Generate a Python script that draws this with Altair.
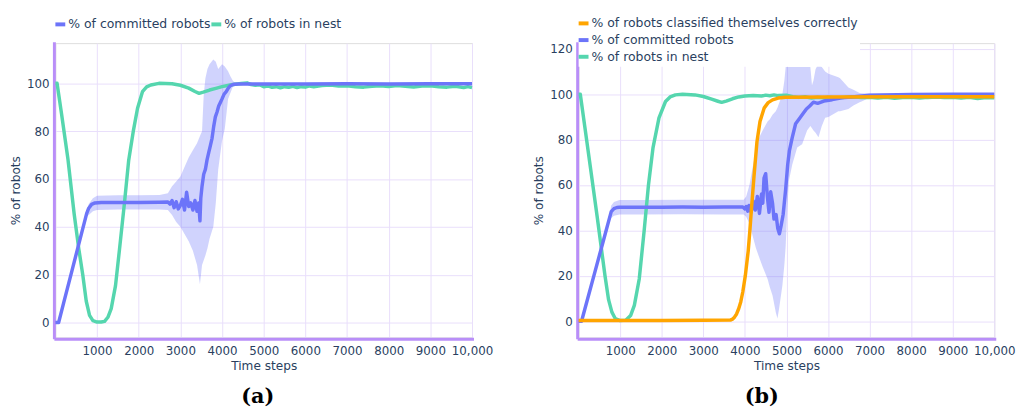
import altair as alt
import pandas as pd

# ---------------- data ----------------
SER_COR = "% of robots classified themselves correctly"
SER_COM = "% of committed robots"
SER_NEST = "% of robots in nest"

x_ticks = [1000, 2000, 3000, 4000, 5000, 6000, 7000, 8000, 9000, 10000]
y_ticks_a = [0, 20, 40, 60, 80, 100]
y_ticks_b = [0, 20, 40, 60, 80, 100, 120]

# panel (a)
nest_a = [(0, 100), (40, 100), (150, 87), (300, 68.5), (450, 45.5), (560, 31), (657, 20),
          (740, 9), (820, 3), (900, 0.8), (1000, 0.2), (1100, 0.2), (1180, 0.5), (1260, 2.2),
          (1340, 5.8), (1443, 15.4), (1538, 30.5), (1656, 49.7), (1758, 67.6), (1870, 80),
          (1972, 89.6), (2090, 96.5), (2190, 98.5), (2290, 99.3), (2486, 100), (2800, 99.8),
          (3000, 99.2), (3200, 98), (3350, 96.6), (3450, 95.8), (3550, 96.3), (3700, 97.2),
          (3850, 97.9), (4000, 98.6), (4224, 99.4), (4460, 99.9), (4600, 100.2), (4700, 99.5),
          (4800, 99.2), (4900, 99.4), (5000, 98.6), (5100, 98.9), (5200, 98.3), (5300, 98.6),
          (5400, 98.1), (5500, 98.6), (5600, 98.3), (5700, 98.7), (5800, 98.2), (5900, 98.6),
          (6000, 98.4), (6100, 98.9), (6200, 98.6), (6400, 99.1), (6600, 99.3), (6800, 98.9),
          (7000, 99.0), (7200, 98.6), (7400, 98.4), (7600, 98.8), (7800, 99.0), (8000, 98.7),
          (8200, 99.1), (8400, 98.8), (8600, 98.5), (8800, 98.9), (9000, 99.0), (9200, 98.6),
          (9400, 98.4), (9600, 98.8), (9800, 98.2), (9900, 98.6), (10000, 98.2)]

committed_a = [(0, 0), (78, 0), (200, 8.3), (400, 21.8), (600, 35.4), (750, 45.5), (800, 47.8),
               (870, 49.4), (950, 50), (1100, 50.2), (1500, 50.2), (2000, 50.2), (2500, 50.3),
               (2700, 50.4), (2750, 49.5), (2800, 51), (2850, 48), (2900, 50.5), (2950, 47.5),
               (3000, 49), (3050, 51.5), (3100, 47), (3150, 54.5), (3200, 48.5), (3250, 50),
               (3300, 47), (3350, 51), (3400, 46.5), (3440, 50), (3470, 42.5), (3490, 52),
               (3520, 57), (3560, 62), (3600, 64), (3640, 68), (3680, 71), (3720, 74), (3760, 77),
               (3800, 82), (3840, 86), (3880, 88), (3920, 90.5), (3960, 92), (4000, 93.5),
               (4050, 95.5), (4100, 96.5), (4150, 98), (4200, 99), (4250, 99.4), (4300, 99.6),
               (4400, 99.7), (5000, 99.7), (6000, 99.7), (7000, 99.8), (8000, 99.7), (9000, 99.8),
               (10000, 99.8)]

# band (a): (t, lower, upper)
band_a = [(720, 44, 44.8), (800, 45, 49.5), (900, 46.5, 52), (1000, 47, 53), (1500, 47.2, 53.2),
          (2000, 47.2, 53.2), (2500, 47.3, 53.3), (2700, 47, 54), (2800, 45, 57), (2900, 42, 59),
          (3000, 40, 61), (3100, 37, 65), (3200, 34, 69), (3300, 30, 72), (3400, 24, 75),
          (3470, 16, 78), (3520, 24, 80), (3560, 26, 95), (3600, 28, 102), (3650, 31, 106),
          (3700, 35, 108), (3790, 40, 110), (3850, 50, 109), (3908, 64, 106), (4000, 76, 108),
          (4066, 81, 107), (4145, 93.5, 105), (4200, 96, 103), (4264, 98.8, 101),
          (4300, 99.2, 100.5), (4400, 99.4, 100), (5000, 99.4, 100), (6000, 99.4, 100),
          (7000, 99.5, 100.1), (8000, 99.4, 100), (9000, 99.5, 100.1), (10000, 99.5, 100.1)]

# panel (b)
nest_b = [(0, 100), (40, 100), (150, 85.5), (300, 65.5), (450, 45.5), (540, 33), (634, 20),
          (720, 9.5), (800, 4), (880, 1.2), (1000, 0.3), (1140, 0.5), (1250, 2.5), (1340, 7),
          (1458, 18.6), (1577, 40), (1680, 60), (1790, 76.5), (1933, 89.6), (2090, 96.8),
          (2200, 98.8), (2328, 99.7), (2500, 100), (2800, 99.7), (3000, 99), (3200, 97.8),
          (3350, 96.9), (3440, 96.4), (3550, 97), (3700, 98), (3850, 98.8), (4000, 99.2),
          (4200, 99.4), (4400, 99.2), (4500, 99.6), (4600, 99.3), (4700, 99.7), (4800, 99.4),
          (5000, 99.6), (5150, 98.9), (5300, 98.6), (5450, 98.9), (5600, 98.3), (5750, 98.7),
          (5900, 98.4), (6000, 98.7), (6200, 98.3), (6400, 98.6), (6600, 98.9), (6800, 98.5),
          (7000, 98.7), (7200, 98.3), (7400, 98.6), (7600, 98.2), (7800, 98.5), (8000, 98.7),
          (8200, 98.3), (8400, 98.6), (8600, 98.8), (8800, 98.5), (9000, 98.7), (9200, 98.3),
          (9400, 98.6), (9600, 98.1), (9800, 98.5), (10000, 98.4)]

committed_b = [(0, 0), (70, 0), (200, 8.8), (400, 22.3), (600, 35.8), (784, 48.3), (850, 49.6),
               (920, 50.1), (983, 50.2), (1500, 50.2), (2000, 50.2), (2500, 50.3), (3000, 50.2),
               (3500, 50.3), (3950, 50.3), (4000, 49.5), (4031, 50.5), (4070, 48.5), (4100, 51),
               (4150, 48), (4200, 53), (4250, 49), (4300, 55), (4350, 47.5), (4400, 56),
               (4430, 52), (4460, 63), (4500, 65), (4540, 55), (4580, 48), (4620, 57), (4665, 52),
               (4700, 45), (4750, 47), (4790, 41), (4830, 38.5), (4870, 42), (4920, 47),
               (4980, 58), (5030, 69), (5070, 75), (5140, 81), (5220, 87), (5300, 89),
               (5400, 91.5), (5480, 93.5), (5560, 94.8), (5650, 96.5), (5750, 96), (5900, 97),
               (6100, 97.6), (6330, 98.4), (6700, 99), (7000, 99.6), (8000, 99.9), (9000, 100),
               (10000, 100)]

correct_b = [(0, 0.3), (1000, 0.3), (2000, 0.3), (3000, 0.4), (3650, 0.5), (3700, 0.9),
             (3750, 1.8), (3800, 3.2), (3850, 5.5), (3900, 8.5), (3950, 13), (4010, 20),
             (4080, 31), (4120, 40), (4160, 50), (4220, 64), (4290, 79), (4363, 88), (4466, 94),
             (4560, 96.3), (4665, 97.5), (4800, 98.3), (4976, 98.7), (6000, 98.8), (8000, 98.9),
             (10000, 98.9)]

band_b = [(720, 43.5, 44.5), (784, 45.5, 51), (850, 46.5, 52.5), (983, 47, 53.4),
          (1500, 47, 53.4), (2500, 47.1, 53.5), (3500, 47, 53.5), (3970, 47, 53.5),
          (4031, 46, 55), (4110, 43, 60), (4189, 37.4, 68), (4268, 32, 75), (4347, 28, 81),
          (4427, 24, 84), (4546, 18.6, 88), (4600, 15, 89), (4665, 11.3, 91), (4743, 4, 92.5),
          (4783, 1.2, 94), (4822, 5.5, 96), (4902, 15.7, 100), (4950, 25, 106), (4981, 33, 112),
          (5021, 50, 112), (5060, 62, 112), (5140, 69, 112), (5258, 76.5, 112), (5377, 78, 112),
          (5496, 84, 112), (5575, 86, 112), (5614, 85, 104), (5650, 84, 106), (5700, 83, 111),
          (5770, 81, 113.5), (5850, 86, 112), (5931, 89.6, 110), (6010, 90, 109),
          (6248, 92.5, 107.5), (6290, 92.5, 107), (6490, 93.5, 103), (6610, 95, 102),
          (6760, 96.5, 100.5), (6807, 96.8, 100.4), (7000, 98.5, 100.3), (7124, 99.3, 100.3),
          (7300, 99.6, 100.3), (8000, 99.6, 100.3), (10000, 99.6, 100.3)]

# ---------------- styling ----------------
FONT = "DejaVu Sans"
TXT = "#2a3f5f"
GRID = "#E9DEFB"
AXIS = "#B98EF8"
C_COM = "#6c74f9"
C_NEST = "#55d6ae"
C_COR = "#FFA500"
BAND = "#636efa"


def lines_df(series):
    rows = []
    for name, pts in series:
        for t, v in pts:
            rows.append({"t": t, "v": v, "series": name})
    return pd.DataFrame(rows)


def band_df(pts):
    return pd.DataFrame([{"t": t, "lo": lo, "hi": hi} for t, lo, hi in pts])


def x_axis():
    return alt.Axis(values=x_ticks, grid=True, gridColor=GRID, gridWidth=1,
                    domainColor=AXIS, domainWidth=3, offset=1.5, domainCap="square",
                    ticks=False, labelPadding=7, labelColor=TXT, labelFont=FONT,
                    labelFontSize=12, labelOverlap=False, labelFlush=False,
                    labelExpr="datum.value >= 10000 ? format(datum.value, ',') : format(datum.value, 'd')",
                    title="Time steps", titleFont=FONT, titleFontSize=12.3,
                    titleFontWeight="normal", titleColor=TXT, titlePadding=3)


def y_axis(vals):
    return alt.Axis(values=vals, grid=True, gridColor=GRID, gridWidth=1,
                    domainColor=AXIS, domainWidth=3, offset=1.5, domainCap="square",
                    ticks=False, labelPadding=5, labelColor=TXT, labelFont=FONT,
                    labelFontSize=12, labelOverlap=False, labelFlush=False,
                    title="% of robots", titleFont=FONT, titleFontSize=12.3,
                    titleFontWeight="normal", titleColor=TXT, titlePadding=4)


def panel(series, band, domain_y, yvals, leg, caption, cap_dx, width):
    xs = alt.Scale(domain=[0, 10000], nice=False, zero=False)
    ys = alt.Scale(domain=domain_y, nice=False, zero=False)
    colors = {SER_COR: C_COR, SER_COM: C_COM, SER_NEST: C_NEST}
    legend_order = leg.pop("order")
    area = alt.Chart(band_df(band)).mark_area(color=BAND, opacity=0.3).encode(
        x=alt.X("t:Q", scale=xs, axis=x_axis()),
        y=alt.Y("lo:Q", scale=ys, axis=y_axis(yvals)),
        y2="hi:Q",
    )
    line = alt.Chart(lines_df(series)).mark_line(strokeWidth=3.5, strokeJoin="round").encode(
        x=alt.X("t:Q", scale=xs),
        y=alt.Y("v:Q", scale=ys),
        color=alt.Color("series:N",
                        scale=alt.Scale(domain=legend_order,
                                        range=[colors[n] for n in legend_order]),
                        legend=alt.Legend(**leg)),
    )
    return alt.layer(area, line).properties(
        width=width, height=298,
        title=alt.TitleParams(caption, orient="bottom", font="DejaVu Serif", fontSize=21,
                              fontWeight="bold", color="black", offset=15, dx=cap_dx,
                              anchor="middle"),
    )


common_leg = dict(orient="none", title=None, symbolType="stroke", symbolStrokeWidth=4,
                  symbolSize=100, labelFont=FONT, labelFontSize=12.6, labelColor=TXT,
                  labelOffset=1, labelLimit=400, symbolOffset=-4)

leg_a = dict(common_leg, order=[SER_COM, SER_NEST], direction="horizontal", legendX=2,
             legendY=-26, columnPadding=-8, padding=0)
leg_b = dict(common_leg, order=[SER_COR, SER_COM, SER_NEST], direction="vertical",
             legendX=0, legendY=-29, rowPadding=0.9, padding=2, fillColor="white")

chart_a = panel([(SER_NEST, nest_a), (SER_COM, committed_a)], band_a, [-6.2, 116.8],
                y_ticks_a, leg_a, "(a)", -6, 422)
chart_b = panel([(SER_NEST, nest_b), (SER_COM, committed_b), (SER_COR, correct_b)], band_b,
                [-7.1, 122.5], y_ticks_b, leg_b, "(b)", -25, 421)

chart = alt.hconcat(chart_a, chart_b, spacing=108, bounds="flush").resolve_scale(
    x="independent", y="independent", color="independent"
).resolve_legend(color="independent").properties(
    padding={"left": 1, "top": 3, "right": 0, "bottom": 0}
).configure_view(stroke=None).configure(background="white")

chart.save("out.html", embed_options={"renderer": "svg", "actions": False})
